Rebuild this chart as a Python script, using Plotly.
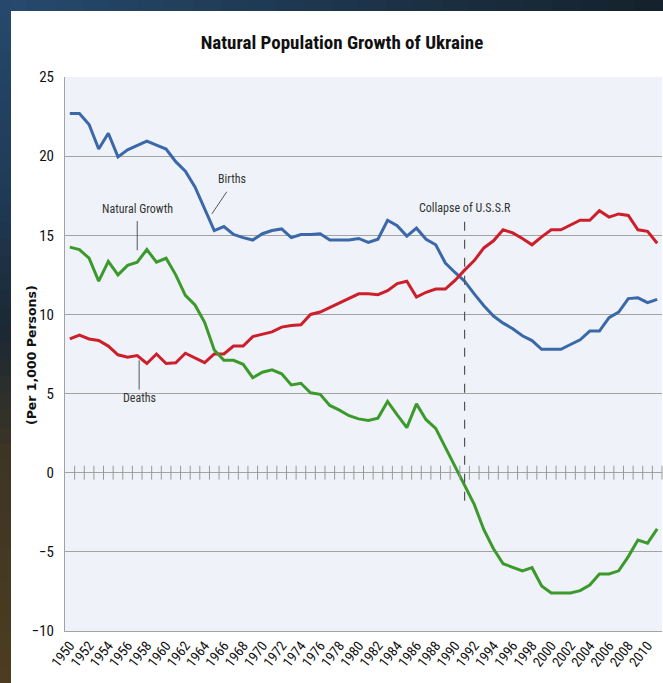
import plotly.graph_objects as go

# ---------------- data ----------------
years = list(range(1950, 2012))
births = [22.7, 22.7, 22.0, 20.45, 21.45, 19.95, 20.4, 20.65, 20.95, 20.7, 20.45, 19.65, 19.05, 18.05, 16.65, 15.3,
          15.55, 15.05, 14.85, 14.7, 15.1, 15.3, 15.4, 14.85, 15.05, 15.05,
          15.1, 14.7, 14.7, 14.7, 14.8, 14.55,
          14.75, 15.95, 15.6, 14.95, 15.45, 14.75, 14.4, 13.25, 12.65, 12.1,
          11.3, 10.55, 9.9, 9.45, 9.1, 8.65, 8.35, 7.8, 7.8, 7.8,
          8.1, 8.4, 8.95, 8.95, 9.8, 10.15, 11.0, 11.05, 10.75, 10.95]
deaths = [8.45, 8.7, 8.45, 8.35, 8.0, 7.45, 7.3, 7.4, 6.9, 7.5, 6.9, 6.95, 7.55, 7.25, 6.95, 7.5,
          7.5, 8.0, 8.0, 8.6, 8.75, 8.9, 9.2, 9.3, 9.35, 10.0,
          10.15, 10.45, 10.7, 11.0, 11.3, 11.3,
          11.25, 11.5, 11.95, 12.1, 11.1, 11.4, 11.6, 11.6, 12.15, 12.8,
          13.4, 14.2, 14.65, 15.35, 15.15, 14.8, 14.4, 14.9, 15.35, 15.35,
          15.65, 15.95, 15.95, 16.55, 16.15, 16.35, 16.25, 15.35, 15.25, 14.5]
natural_growth = [14.25, 14.1, 13.55, 12.1, 13.35, 12.5, 13.1, 13.3, 14.1, 13.3, 13.55, 12.5, 11.2, 10.6, 9.5, 7.75,
                  7.1, 7.1, 6.85, 6.0, 6.35, 6.5, 6.25, 5.55, 5.65, 5.05,
                  4.95, 4.25, 3.95, 3.6, 3.4, 3.3,
                  3.45, 4.5, 3.65, 2.85, 4.35, 3.35, 2.8, 1.6, 0.4, -0.9,
                  -2.0, -3.6, -4.8, -5.75, -6.0, -6.2, -6.0, -7.15, -7.6, -7.6,
                  -7.6, -7.45, -7.1, -6.4, -6.4, -6.2, -5.3, -4.25, -4.45, -3.55]
tick_years = list(range(1950, 2011, 2))
y_ticks = [-10, -5, 0, 5, 10, 15, 20, 25]
collapse_year = 1991

# ---------------- style ----------------
W, H = 663, 683
L, R, T, B = 65, 1, 77, 52
pw, ph = W - L - R, H - T - B
BLUE, RED, GREEN = "#3a68a8", "#cc1f2b", "#3c9a2c"
GRID = "#a3a3a3"
FONT = "Liberation Sans Narrow, Arial Narrow, Roboto Condensed, Liberation Sans, sans-serif"


def px_x(p):
    return (p - L) / pw


def px_y(p):
    return (H - B - p) / ph


def mix(c1, c2, t):
    a = [int(c1[i:i + 2], 16) for i in (1, 3, 5)]
    b = [int(c2[i:i + 2], 16) for i in (1, 3, 5)]
    return "#%02x%02x%02x" % tuple(round(a[k] + (b[k] - a[k]) * t) for k in range(3))


shapes = []
# dark background gradient: top strip
n = 24
for i in range(n):
    x0 = W * i / n
    x1 = W * (i + 1) / n + 1
    shapes.append(dict(type="rect", xref="paper", yref="paper", layer="below",
                       x0=px_x(x0), x1=px_x(x1), y0=px_y(12), y1=px_y(0),
                       fillcolor=mix("#26496d", "#15222d", i / (n - 1)), line=dict(width=0)))
# left strip
stops = [(0, "#26496d"), (200, "#1f3a55"), (330, "#1b2833"), (450, "#3c3524"), (683, "#4d3d20")]
n = 40
for i in range(n):
    y0 = H * i / n
    y1 = H * (i + 1) / n + 1
    yc = (y0 + y1) / 2
    col = stops[-1][1]
    for j in range(len(stops) - 1):
        if stops[j][0] <= yc <= stops[j + 1][0]:
            t = (yc - stops[j][0]) / (stops[j + 1][0] - stops[j][0])
            col = mix(stops[j][1], stops[j + 1][1], t)
            break
    shapes.append(dict(type="rect", xref="paper", yref="paper", layer="below",
                       x0=px_x(0), x1=px_x(11), y0=px_y(min(y1, H)), y1=px_y(y0),
                       fillcolor=col, line=dict(width=0)))
# white card
shapes.append(dict(type="rect", xref="paper", yref="paper", layer="below",
                   x0=px_x(11), x1=px_x(W + 2), y0=px_y(H + 2), y1=px_y(11),
                   fillcolor="#ffffff", line=dict(width=0)))
# plot area background
shapes.append(dict(type="rect", xref="paper", yref="paper", layer="below",
                   x0=0, x1=1, y0=0, y1=1, fillcolor="#eff3f9", line=dict(width=0)))

# collapse of USSR dashed line
shapes.append(dict(type="line", xref="x", yref="y", x0=collapse_year, x1=collapse_year,
                   y0=15.85, y1=-1.85, line=dict(color="#555555", width=1.2, dash="dash")))
# leader lines for labels
leader = dict(color="#555555", width=1)
shapes.append(dict(type="line", xref="x", yref="y", x0=1966.3, y0=17.75, x1=1964.75, y1=16.35, line=leader))
shapes.append(dict(type="line", xref="x", yref="y", x0=1957.0, y0=15.9, x1=1957.0, y1=14.05, line=leader))
shapes.append(dict(type="line", xref="x", yref="y", x0=1957.2, y0=7.1, x1=1957.2, y1=5.25, line=leader))

fig = go.Figure()
fig.add_trace(go.Scatter(x=years, y=births, mode="lines", name="Births",
                         line=dict(color=BLUE, width=3), hoverinfo="skip"))
fig.add_trace(go.Scatter(x=years, y=deaths, mode="lines", name="Deaths",
                         line=dict(color=RED, width=3), hoverinfo="skip"))
fig.add_trace(go.Scatter(x=years, y=natural_growth, mode="lines", name="Natural Growth",
                         line=dict(color=GREEN, width=3), hoverinfo="skip"))
# tick marks on the zero line (category boundaries)
fig.add_trace(go.Scatter(x=[y + 0.5 for y in years], y=[0] * len(years), mode="markers",
                         marker=dict(symbol="line-ns", size=10, line=dict(color="#999999", width=1)),
                         hoverinfo="skip", showlegend=False, cliponaxis=False))

ann_font = dict(family=FONT, size=12, color="#333333")
annotations = [
    dict(x=1966.85, y=18.55, text="Births", showarrow=False, font=ann_font),
    dict(x=1957.0, y=16.65, text="Natural Growth", showarrow=False, font=ann_font),
    dict(x=1957.2, y=4.7, text="Deaths", showarrow=False, font=ann_font),
    dict(x=collapse_year, y=16.7, text="Collapse of U.S.S.R", showarrow=False, font=ann_font),
    dict(xref="paper", yref="paper", x=px_x(31), y=px_y(355), xanchor="center", yanchor="middle",
         text="(Per 1,000 Persons)", textangle=-90, showarrow=False,
         font=dict(family="DejaVu Sans, Verdana, sans-serif", size=12.5, color="#111111", weight="bold")),
]

fig.update_layout(
    width=W, height=H,
    margin=dict(l=L, r=R, t=T, b=B),
    paper_bgcolor="#1d3346",
    plot_bgcolor="rgba(0,0,0,0)",
    showlegend=False,
    shapes=shapes,
    annotations=annotations,
    title=dict(text="<b>Natural Population Growth of Ukraine</b>", xref="container", yref="container",
               x=342 / W, y=1 - 42 / H, xanchor="center", yanchor="middle",
               font=dict(family=FONT, size=19, color="#111111")),
    xaxis=dict(range=[1949.5, 2011.5], tickmode="array", tickvals=tick_years,
               ticktext=[str(y) for y in tick_years], tickangle=-52,
               showgrid=False, zeroline=False, showline=True, linecolor=GRID, linewidth=1,
               ticks="", tickfont=dict(family=FONT, size=14, color="#111111")),
    yaxis=dict(range=[-10, 25], tickmode="array", tickvals=y_ticks,
               showgrid=True, gridcolor=GRID, gridwidth=1,
               zeroline=True, zerolinecolor=GRID, zerolinewidth=1,
               showline=True, linecolor=GRID, linewidth=1, ticks="",
               ticklabelstandoff=7,
               tickfont=dict(family=FONT, size=15, color="#111111")),
)

fig.write_html("out.html", config={"displayModeBar": False},
               post_script="document.body.style.margin='0';document.body.style.padding='0';"
                           "document.body.style.overflow='hidden';"
                           "document.documentElement.style.overflow='hidden';")
